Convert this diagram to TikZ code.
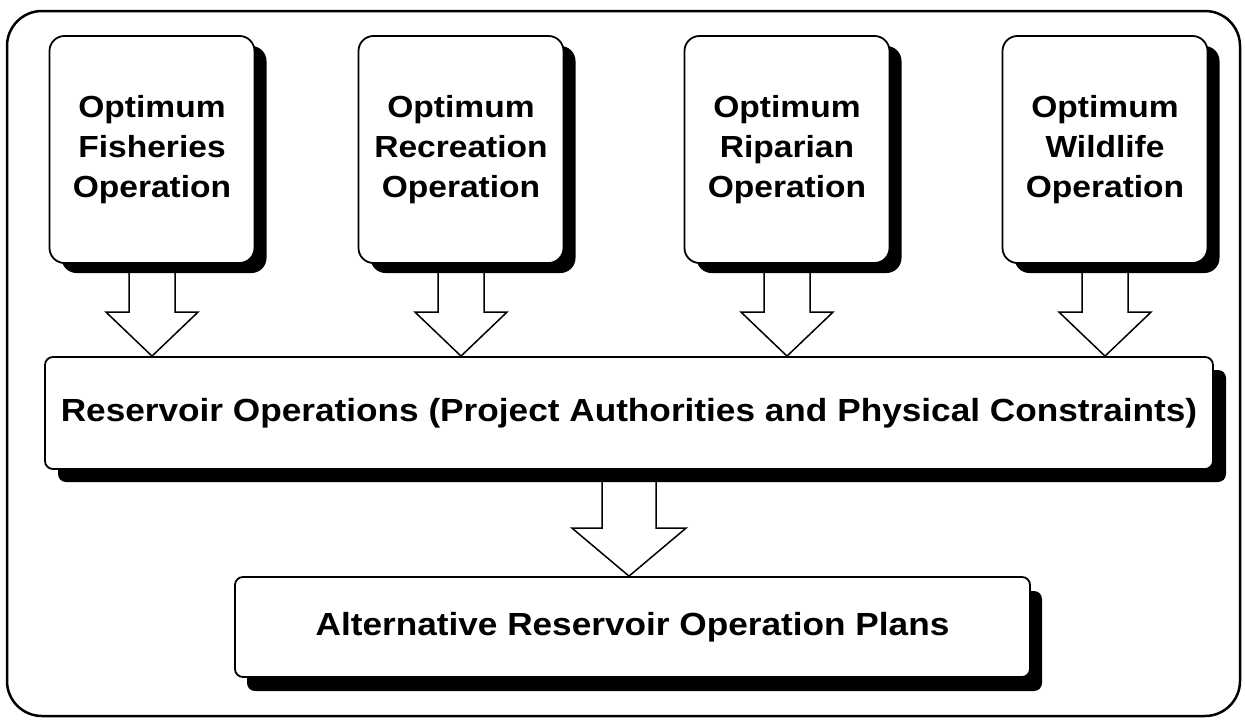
\documentclass[tikz,border=0pt]{standalone}
\usepackage{fontspec}
\setmainfont{Liberation Sans}[FakeStretch=1.1]
\usetikzlibrary{calc,shadows}
\pgfdeclarelayer{background}
\pgfsetlayers{background,main}
\tikzset{
  boxbase/.style={draw, line width=1.8pt, fill=white, inner sep=0pt},
  optbox/.style={boxbase, rounded corners=15pt, minimum width=205pt,
    minimum height=227pt, align=center,
    font=\bfseries\fontsize{30.5}{40}\selectfont,
    drop shadow={shadow xshift=12pt, shadow yshift=-10pt, opacity=1, fill=black}},
  widebox/.style={boxbase, rounded corners=8pt,
    font=\bfseries\fontsize{32}{38}\selectfont},
  frame/.style={draw, line width=2.5pt, rounded corners=35pt},
  % hollow block arrow: shaft half-width, head half-width, head length
  blockarrow/.style n args={3}{draw, fill=white, line width=1.5pt,
    line join=miter,
    to path={let \p1=(\tikztostart), \p2=(\tikztotarget) in
      (\x1-#1,\y1) -- (\x1-#1,\y2+#3) -- (\x1-#2,\y2+#3) -- (\x1,\y2)
      -- (\x1+#2,\y2+#3) -- (\x1+#1,\y2+#3) -- (\x1+#1,\y1)}}
}
\begin{document}
\begin{tikzpicture}[x=1pt, y=-1pt]
  \useasboundingbox (0,0) rectangle (1245,723);

  % outer frame
  \draw[frame] (7,11) rectangle (1240,716);

  % objective boxes
  \node[optbox] (fish) at (152,149.5) {Optimum\\Fisheries\\Operation};
  \node[optbox] (recr) at (461,149.5) {Optimum\\Recreation\\Operation};
  \node[optbox] (ripa) at (787,149.5) {Optimum\\Riparian\\Operation};
  \node[optbox] (wild) at (1105,149.5) {Optimum\\Wildlife\\Operation};

  % combined operations
  \node[widebox, minimum width=1168pt, minimum height=112pt,
    drop shadow={shadow xshift=13pt, shadow yshift=-13pt, opacity=1, fill=black}]
    (resops) at (629,413)
    {Reservoir Operations (Project Authorities and Physical Constraints)};

  % resulting plans
  \node[widebox, minimum width=795pt, minimum height=100pt,
    drop shadow={shadow xshift=12pt, shadow yshift=-14pt, opacity=1, fill=black}]
    (plans) at (632.5,627) {Alternative Reservoir Operation Plans};

  % flow arrows, kept behind the boxes and their shadows
  \begin{pgfonlayer}{background}
    \foreach \b in {fish,recr,ripa,wild}
      \draw[blockarrow={23pt}{46pt}{44pt}] (\b.south) to (\b.south |- resops.north);
    \draw[blockarrow={27pt}{57pt}{48pt}] (resops.south) to (resops.south |- plans.north);
  \end{pgfonlayer}
\end{tikzpicture}
\end{document}
